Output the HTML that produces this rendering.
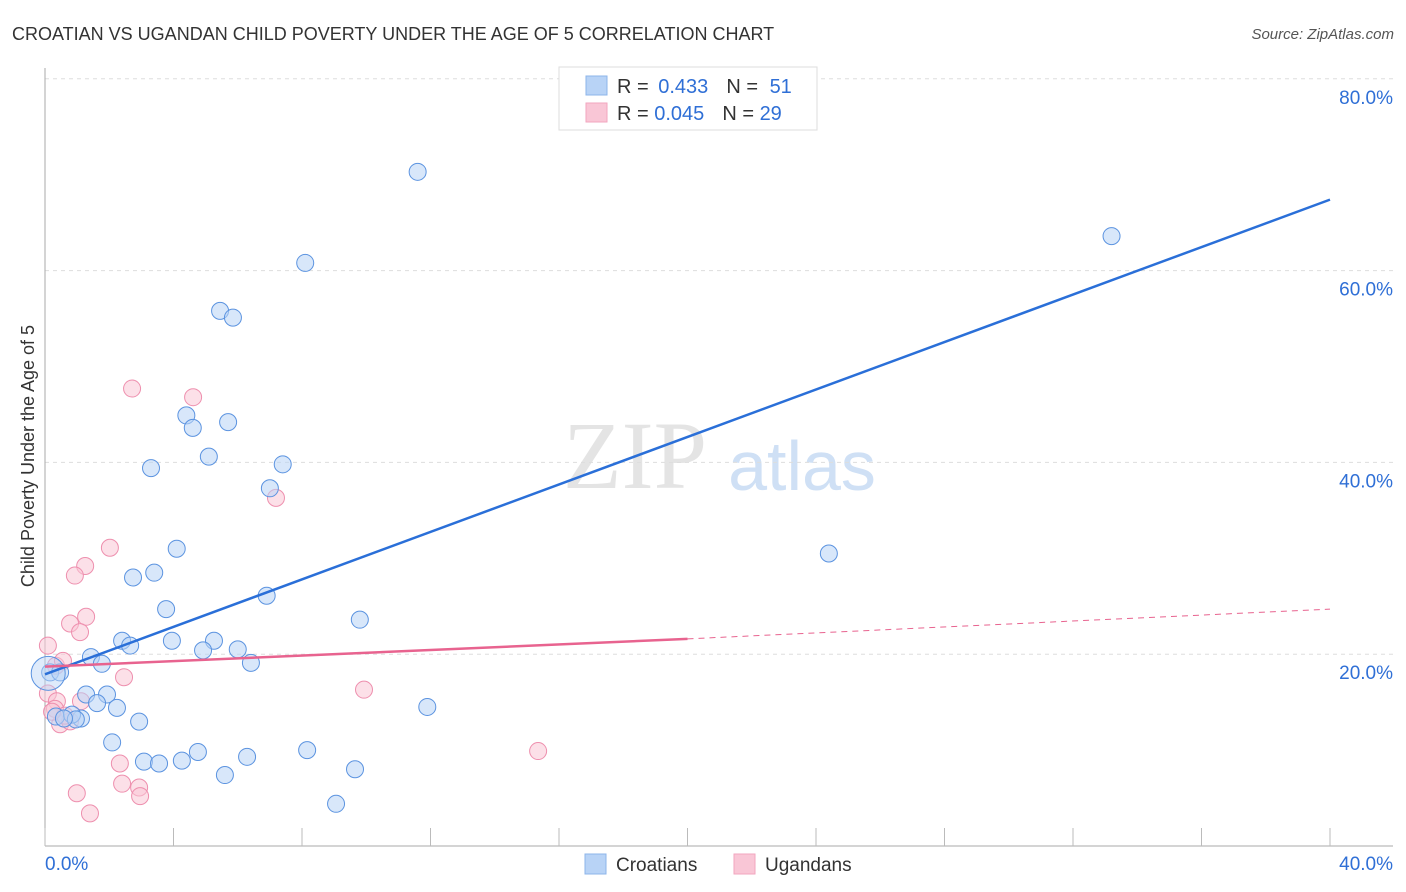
<!DOCTYPE html>
<html><head><meta charset="utf-8"><style>
body{margin:0;background:#fff;font-family:"Liberation Sans",sans-serif;}
svg{display:block}
</style></head><body>
<svg id="chart" width="1406" height="892">
<text x="12" y="40" font-size="18" fill="#333">CROATIAN VS UGANDAN CHILD POVERTY UNDER THE AGE OF 5 CORRELATION CHART</text>
<text x="1394" y="39" font-size="15" fill="#555" font-style="italic" text-anchor="end">Source: ZipAtlas.com</text>
<text x="0" y="0" font-size="18" fill="#333" text-anchor="middle" transform="translate(34,456) rotate(-90)">Child Poverty Under the Age of 5</text>
<text x="635" y="488" font-size="96" fill="#e4e4e4" font-family="Liberation Serif,serif" text-anchor="middle">ZIP</text>
<text x="802" y="490" font-size="70" fill="#cfe0f5" text-anchor="middle">atlas</text>
<g id="grid"></g>
<g id="axes"></g>
<g id="points"></g>
<g id="lines"></g>
<g>
<rect x="559" y="67" width="258" height="63" fill="#fff" stroke="#ddd"/>
<rect x="586" y="76" width="21" height="19" fill="#b8d3f6" stroke="#8db4ea"/>
<rect x="586" y="103" width="21" height="19" fill="#f9c6d6" stroke="#f2a6bf"/>
<text x="617" y="93" font-size="20" fill="#333">R = <tspan fill="#2f6fd6" dx="4">0.433</tspan><tspan fill="#333" dx="18">N = </tspan><tspan fill="#2f6fd6" dx="6">51</tspan></text>
<text x="617" y="120" font-size="20" fill="#333">R = <tspan fill="#2f6fd6">0.045</tspan><tspan fill="#333" dx="18">N = </tspan><tspan fill="#2f6fd6">29</tspan></text>
</g>
<g>
<rect x="585" y="854" width="21" height="20" fill="#b8d3f6" stroke="#8db4ea"/>
<text x="616" y="871" font-size="19" fill="#333">Croatians</text>
<rect x="734" y="854" width="21" height="20" fill="#f9c6d6" stroke="#f2a6bf"/>
<text x="765" y="871" font-size="19" fill="#333">Ugandans</text>
</g>
</svg>
<script>
const yTicks=[20,40,60,80];
const xTickLabels=["0.0%","40.0%"];
const croX=[11.6,33.2,8.1,5.45,5.85,4.4,4.6,5.7,3.3,5.1,7.4,7.0,4.1,2.74,3.4,3.77,6.9,9.8,24.4,2.4,2.65,3.95,5.26,4.92,6.0,6.41,1.43,1.77,1.28,1.93,1.62,2.24,2.93,1.12,0.34,0.84,11.9,2.09,3.08,3.55,4.26,4.76,5.6,6.29,8.16,9.65,9.06,0.16,0.47,0.96,0.59];
const croY=[70.3,63.6,60.8,55.8,55.1,44.9,43.6,44.2,39.4,40.6,39.8,37.3,31.0,28.0,28.5,24.7,26.1,23.6,30.5,21.4,20.9,21.4,21.4,20.4,20.5,19.1,19.7,19.0,15.8,15.8,14.9,14.4,12.97,13.3,13.5,13.7,14.5,10.8,8.8,8.6,8.9,9.8,7.4,9.3,10.0,8.0,4.4,18.1,18.1,13.2,13.3];
const ugaX=[2.71,4.61,7.19,2.02,1.25,0.93,1.28,0.78,1.09,2.46,0.09,0.34,0.56,0.09,0.37,1.12,0.31,0.47,0.78,9.93,15.35,2.33,2.4,2.93,2.96,0.99,1.4,0.62,0.22];
const ugaY=[47.7,46.8,36.3,31.1,29.2,28.2,23.9,23.2,22.3,17.6,20.9,18.8,19.3,15.9,15.1,15.1,14.3,12.7,13.0,16.3,9.9,8.6,6.5,6.1,5.2,5.5,3.4,13.6,14.0];
const croLine=[17.9,67.4];
const ugaLine=[18.7,21.6,24.7];
const NS="http://www.w3.org/2000/svg";
const X=v=>45+v*32.125, Y=v=>846-v*9.59;
function mk(tag,attrs,parent){const e=document.createElementNS(NS,tag);for(const k in attrs)e.setAttribute(k,attrs[k]);document.getElementById(parent).appendChild(e);return e;}
yTicks.forEach(t=>{
 const l=mk('line',{x1:45,x2:1393,y1:Y(t),y2:Y(t),stroke:'#ddd','stroke-dasharray':'4 4'},'grid');
 
 
 const tx=mk('text',{x:1393,y:Y(t)+25,'font-size':19,fill:'#2f6fd6','text-anchor':'end'},'grid');
 tx.textContent=t.toFixed(1)+'%';
 
 
});
const ax=mk('line',{x1:45,x2:1393,y1:846,y2:846,stroke:'#aaa'},'axes');


const ay=mk('line',{x1:45,x2:45,y1:68,y2:846,stroke:'#aaa'},'axes');


for(let i=0;i<=10;i++){
 const t=mk('line',{x1:X(i*4),x2:X(i*4),y1:828,y2:846,stroke:'#bbb'},'axes');
 
 
}
[[0,'start',45],[40,'end',1393]].forEach((d,i)=>{
 const tx=mk('text',{x:d[2],y:870,'font-size':19,fill:'#2f6fd6','text-anchor':d[1]},'axes');
 tx.textContent=xTickLabels[i];
 
 
});
function pts(xs,ys,fill,stroke,name){
 xs.forEach((x,i)=>{
  const c=mk('circle',{cx:X(x),cy:Y(ys[i]),r:8.5,fill:fill,'fill-opacity':0.55,stroke:stroke,'stroke-width':1},'points');
  
  
 });
}
pts(ugaX,ugaY,'#f9c6d6','#ee8fae','ugandans-point');
pts(croX,croY,'#b8d3f6','#5b93e0','croatians-point');
const big=mk('circle',{cx:X(0.1),cy:Y(18),r:17,fill:'#b8d3f6','fill-opacity':0.45,stroke:'#5b93e0'},'points');


const bl=mk('line',{x1:X(0),y1:Y(croLine[0]),x2:X(40),y2:Y(croLine[1]),stroke:'#2a6fd8','stroke-width':2.5},'lines');


const pl=mk('line',{x1:X(0),y1:Y(ugaLine[0]),x2:X(20),y2:Y(ugaLine[1]),stroke:'#e8638f','stroke-width':2.5},'lines');


const pd=mk('line',{x1:X(20),y1:Y(ugaLine[1]),x2:X(40),y2:Y(ugaLine[2]),stroke:'#e8638f','stroke-width':1,'stroke-dasharray':'6 5'},'lines');


</script>
</body></html>
